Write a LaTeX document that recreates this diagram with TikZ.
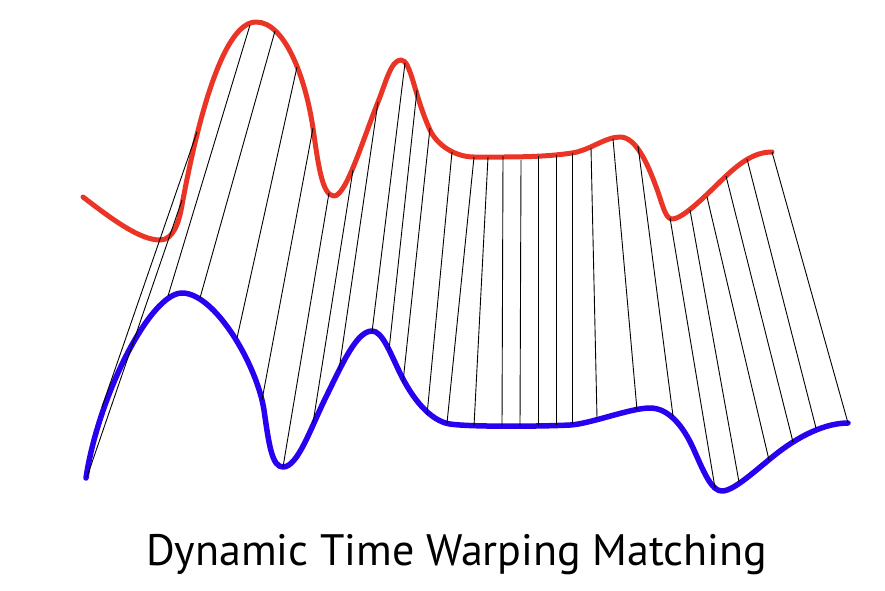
\documentclass[tikz,border=0pt]{standalone}
\usepackage{fontspec}
\setmainfont{PT Sans}
\definecolor{dtwred}{RGB}{234,52,38}
\definecolor{dtwblue}{RGB}{42,0,240}
\begin{document}
\begin{tikzpicture}[x=1pt,y=-1pt,
  redcurve/.style={draw=dtwred,line width=5pt,line cap=round,line join=round},
  bluecurve/.style={draw=dtwblue,line width=5.5pt,line cap=round,line join=round},
  matchline/.style={draw=black,line width=0.9pt},
  titletext/.style={font=\fontsize{44}{50}\selectfont,text=black,inner sep=0pt}]
\useasboundingbox (0,0) rectangle (885,590);
% red series
\draw[redcurve] (83,197)
  .. controls (113,220) and (140,240) .. (160,240)
  .. controls (173,240) and (179,223) .. (182,205)
  .. controls (194,140) and (220,22) .. (256,22)
  .. controls (285,22) and (305.5,78) .. (313,128)
  .. controls (318,163) and (322,196) .. (334,196)
  .. controls (346,196) and (362,142) .. (378,102)
  .. controls (386,82) and (391,60) .. (401,60)
  .. controls (411,60) and (414,95) .. (430,130)
  .. controls (437,145) and (455,157) .. (474,157)
  .. controls (510,157) and (542,157.5) .. (572,153)
  .. controls (590,150.3) and (605,137) .. (620,137)
  .. controls (637,137) and (649,167) .. (658,192)
  .. controls (663,207) and (666,219) .. (672,219)
  .. controls (684,219) and (711,190) .. (726,176)
  .. controls (741,162) and (755,152) .. (772,152);
% blue series
\draw[bluecurve] (86,478)
  .. controls (98,397) and (150,293) .. (182,293)
  .. controls (215,293) and (257,365) .. (264,410)
  .. controls (269,445) and (272,467) .. (283,467)
  .. controls (298,467) and (311,427) .. (326,397)
  .. controls (343,362) and (357,331) .. (372,331)
  .. controls (382,331) and (389.4,351) .. (400,373)
  .. controls (412,398) and (430,421) .. (450,424)
  .. controls (470,427) and (540,426.5) .. (570,425)
  .. controls (590,424) and (630,408) .. (650,408)
  .. controls (668,408) and (683,425) .. (694,450)
  .. controls (705,475) and (712,491) .. (722,491)
  .. controls (735,491) and (760,466) .. (780,451)
  .. controls (800,436) and (825,423) .. (848,423);
% matching lines
\foreach \i/\rx/\ry/\bx/\by in {
 1/182/200/87/477, 2/197/132/102/407, 3/250/25/168/296, 4/275/31/200/298,
 5/297/67/237/338, 6/313/128/262/400, 7/329/193/283/467, 8/353/170/313/423,
 9/378/102/339/370, 10/405/63/372/332, 11/417/90/389/350, 12/430/128/403/382,
 13/452/152/427/415, 14/474/157/447/423, 15/488/157/474/426, 16/503/156/502/426,
 17/521/160/520/426, 18/538/156/538/426, 19/556/155/556/425, 20/572/153/572/424,
 21/591/148/597/418, 22/613/139/637/410, 23/638/146/673/416, 24/670/218/715/488,
 25/690/210/739/482, 26/707/197/769/460, 27/726/176/793/442, 28/747/159/816/428,
 29/772/152/848/423}{
  \coordinate (r\i) at (\rx,\ry);
  \coordinate (b\i) at (\bx,\by);
  \draw[matchline] (r\i) -- (b\i);
}
\node[titletext,anchor=base] (title) at (457,565) {Dynamic Time Warping Matching};
\end{tikzpicture}
\end{document}
